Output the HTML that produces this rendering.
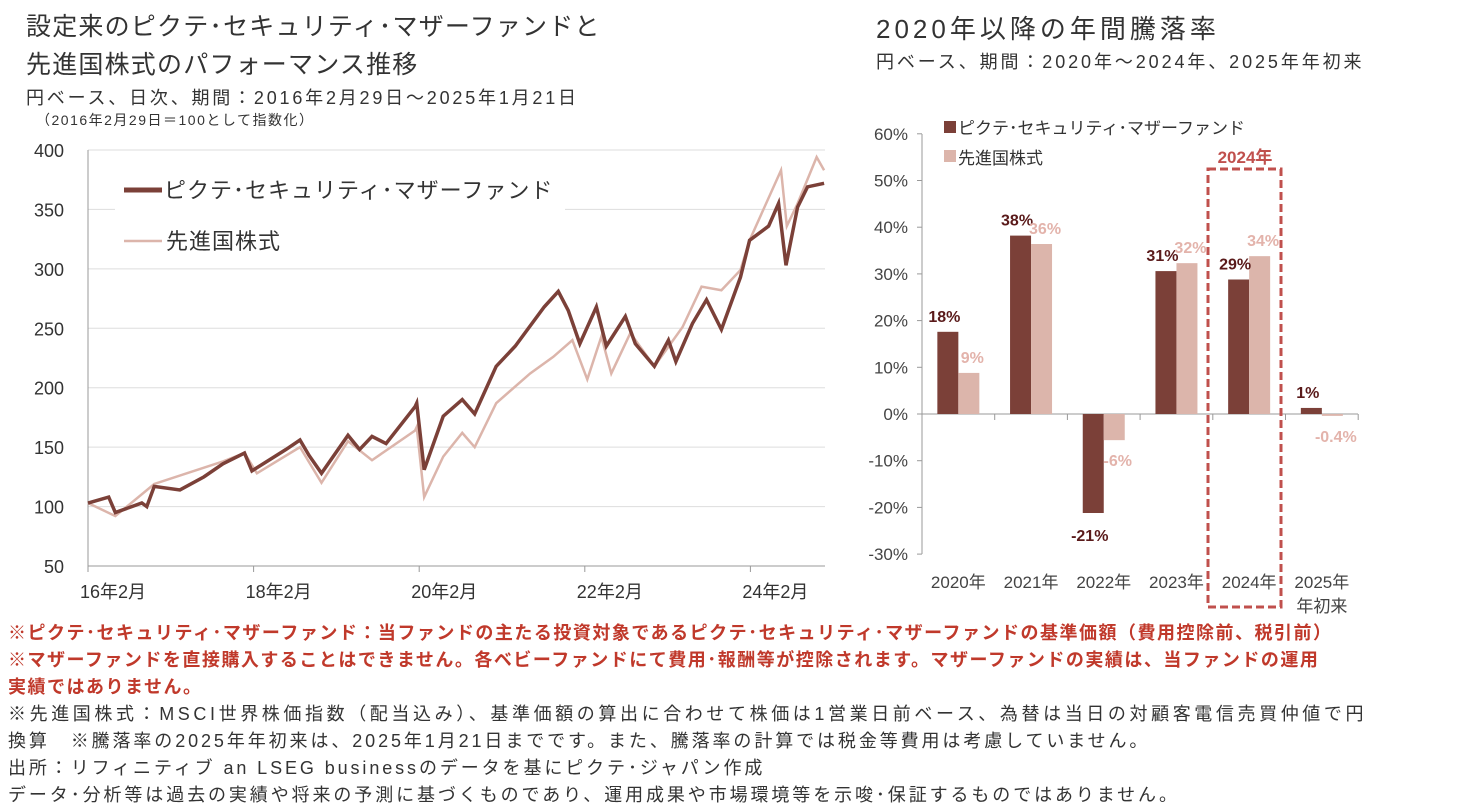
<!DOCTYPE html>
<html><head><meta charset="utf-8"><style>
body{margin:0;background:#fff;font-family:"Liberation Sans","Noto Sans CJK JP",sans-serif;}
#wrap{position:relative;width:1457px;height:812px;overflow:hidden;}
.t{position:absolute;white-space:nowrap;color:#333;}
.r{color:#c0392b;font-weight:bold;letter-spacing:1.5px;}
</style></head><body><div id="wrap">
<div class="t" style="left:26px;top:8px;font-size:25px;line-height:38px;letter-spacing:1.2px">設定来のピクテ･セキュリティ･マザーファンドと<br>先進国株式のパフォーマンス推移</div>
<div class="t" style="left:26px;top:84px;font-size:18px;letter-spacing:2.8px">円ベース、日次、期間：2016年2月29日～2025年1月21日</div>
<div class="t" style="left:36px;top:110px;font-size:14px;letter-spacing:1.5px">（2016年2月29日＝100として指数化）</div>
<div class="t" style="left:876px;top:9px;font-size:26px;letter-spacing:4px">2020年以降の年間騰落率</div>
<div class="t" style="left:876px;top:48px;font-size:18px;letter-spacing:2.9px">円ベース、期間：2020年～2024年、2025年年初来</div>
<svg width="1457" height="812" style="position:absolute;left:0;top:0" id="svg"></svg>
<div class="t" style="left:8px;top:620px;font-size:18px;line-height:27px;letter-spacing:2.9px"><span class="r">※ピクテ･セキュリティ･マザーファンド：当ファンドの主たる投資対象であるピクテ･セキュリティ･マザーファンドの基準価額（費用控除前、税引前）<br>※マザーファンドを直接購入することはできません。各ベビーファンドにて費用･報酬等が控除されます。マザーファンドの実績は、当ファンドの運用<br>実績ではありません。</span><br><span style="letter-spacing:3.6px">※先進国株式：MSCI世界株価指数（配当込み）、基準価額の算出に合わせて株価は1営業日前ベース、為替は当日の対顧客電信売買仲値で円</span><br>換算　※騰落率の2025年年初来は、2025年1月21日までです。また、騰落率の計算では税金等費用は考慮していません。<br>出所：リフィニティブ an LSEG businessのデータを基にピクテ･ジャパン作成<br>データ･分析等は過去の実績や将来の予測に基づくものであり、運用成果や市場環境等を示唆･保証するものではありません。</div>
</div>
<script>
const fundT=[2016.16,2016.41,2016.49,2016.81,2016.87,2016.96,2017.27,2017.56,2017.79,2018.05,2018.14,2018.55,2018.72,2018.83,2018.98,2019.3,2019.44,2019.59,2019.76,2020.11,2020.13,2020.22,2020.45,2020.68,2020.83,2021.09,2021.32,2021.67,2021.84,2021.96,2022.1,2022.3,2022.42,2022.65,2022.77,2023.0,2023.17,2023.26,2023.46,2023.63,2023.81,2024.04,2024.15,2024.38,2024.5,2024.59,2024.73,2024.85,2025.05];
const fundV=[103,108,95,103,100,117,114,125,136,145,130,148,156,143,128,160,148,159,153,184,187,131,176,190,178,218,235,268,281,265,237,268,235,260,237,218,240,222,254,274,249,293,324,336,355,303,352,369,372];
const worldT=[2016.16,2016.49,2016.96,2017.79,2018.05,2018.2,2018.72,2018.98,2019.3,2019.59,2020.11,2020.13,2020.22,2020.45,2020.68,2020.83,2021.09,2021.5,2021.78,2022.01,2022.19,2022.36,2022.48,2022.71,2023.0,2023.34,2023.57,2023.81,2024.04,2024.15,2024.53,2024.6,2024.73,2024.96,2025.05];
const worldV=[103,92,119,138,145,128,150,120,155,139,164,167,108,142,162,150,187,212,226,240,207,243,212,246,218,251,285,282,299,324,383,336,355,394,383];
const yTicks=[50,100,150,200,250,300,350,400];
const xTickYears=[2016.16,2018.16,2020.16,2022.16,2024.16];
const xTickLabels=['16年2月','18年2月','20年2月','22年2月','24年2月'];
const cats=['2020年','2021年','2022年','2023年','2024年','2025年'];
const fundR=[17.6,38.2,-21.2,30.6,28.8,1.3];
const worldR=[8.8,36.4,-5.6,32.3,33.8,-0.4];
const fundLbl=['18%','38%','-21%','31%','29%','1%'];
const worldLbl=['9%','36%','-6%','32%','34%','-0.4%'];
const pctTicks=[-30,-20,-10,0,10,20,30,40,50,60];
const NS='http://www.w3.org/2000/svg';const svg=document.getElementById('svg');
function mk(tag,at,txt){const e=document.createElementNS(NS,tag);for(const k in at)e.setAttribute(k,at[k]);if(txt!=null)e.textContent=txt;svg.appendChild(e);return e;}
const FONT='"Liberation Sans","Noto Sans CJK JP",sans-serif';
const X=t=>88+(t-2016.16)*82.8, Y=v=>150+(400-v)*416/350;
yTicks.forEach(v=>{
 const g=mk('line',{x1:88,x2:825,y1:Y(v),y2:Y(v),stroke:v==50?'#999':'#ddd','stroke-width':1});
 
 const l=mk('text',{x:64,y:Y(v)+7,'text-anchor':'end','font-size':18,fill:'#333','font-family':FONT},v);
 
});
mk('line',{x1:88,x2:88,y1:150,y2:566,stroke:'#999'});
xTickYears.forEach((t,i)=>{
 mk('line',{x1:X(t),x2:X(t),y1:566,y2:572,stroke:'#999'});
 const l=mk('text',{x:X(t)-8,y:598,'font-size':18,fill:'#333','font-family':FONT},xTickLabels[i]);
 
});
const wp=mk('polyline',{points:worldT.map((t,i)=>X(t)+','+Y(worldV[i])).join(' '),fill:'none',stroke:'#dcb5ab','stroke-width':2.5});

const fp=mk('polyline',{points:fundT.map((t,i)=>X(t)+','+Y(fundV[i])).join(' '),fill:'none',stroke:'#7b4038','stroke-width':3.5});

mk('rect',{x:115,y:170,width:450,height:95,fill:'#fff'});
mk('line',{x1:124,x2:162,y1:190,y2:190,stroke:'#7b4038','stroke-width':5});
mk('text',{x:164,y:198,'font-size':22,fill:'#333','font-family':FONT,'letter-spacing':1},'ピクテ･セキュリティ･マザーファンド');
mk('line',{x1:124,x2:162,y1:241,y2:241,stroke:'#dcb5ab','stroke-width':2.5});
mk('text',{x:166,y:249,'font-size':22,fill:'#333','font-family':FONT,'letter-spacing':1},'先進国株式');
const BY=p=>414-p*4.67, cw=72.7, bx0=922;
pctTicks.forEach(p=>{
 mk('line',{x1:917,x2:922,y1:BY(p),y2:BY(p),stroke:'#999'});
 const l=mk('text',{x:908,y:BY(p)+6,'text-anchor':'end','font-size':17,fill:'#444','font-family':FONT},(p<0?'-':'')+Math.abs(p)+'%');
 
});
mk('line',{x1:922,x2:922,y1:134,y2:554,stroke:'#999'});
mk('line',{x1:922,x2:1358,y1:414,y2:414,stroke:'#999'});
cats.forEach((c,i)=>{
 const cx=bx0+cw*(i+0.5);
 mk('line',{x1:bx0+cw*(i+1),x2:bx0+cw*(i+1),y1:414,y2:420,stroke:'#999'});
 const f=fundR[i],w=worldR[i];
 const b1=mk('rect',{x:cx-21,y:Math.min(BY(f),414),width:21,height:Math.abs(BY(f)-414),fill:'#7b4038'});
 
 const b2=mk('rect',{x:cx,y:Math.min(BY(w),414),width:21,height:Math.max(1,Math.abs(BY(w)-414)),fill:'#dcb5ab'});
 
 mk('text',{x:cx-14,y:f>=0?BY(f)-10:BY(f)+28,'text-anchor':'middle','font-size':16,'font-weight':'bold',fill:'#5a1a1a','font-family':FONT},fundLbl[i]);
 mk('text',{x:cx+14,y:w>=0?BY(w)-10:BY(w)+26,'text-anchor':'middle','font-size':16,'font-weight':'bold',fill:'#e3b3ab','font-family':FONT},worldLbl[i]);
 const l=mk('text',{x:cx,y:588,'text-anchor':'middle','font-size':17,fill:'#444','font-family':FONT},c);
 
});
mk('text',{x:bx0+cw*5.5,y:612,'text-anchor':'middle','font-size':17,fill:'#444','font-family':FONT},'年初来');
mk('rect',{x:944,y:121,width:12,height:12,fill:'#7b4038'});
mk('text',{x:958,y:134,'font-size':17,fill:'#333','font-family':FONT},'ピクテ･セキュリティ･マザーファンド');
mk('rect',{x:944,y:150,width:12,height:12,fill:'#dcb5ab'});
mk('text',{x:958,y:164,'font-size':17,fill:'#333','font-family':FONT},'先進国株式');
const hb=mk('rect',{x:1208,y:169,width:73,height:438,fill:'none',stroke:'#c0504d','stroke-width':3,'stroke-dasharray':'8,4'});

mk('text',{x:1245,y:163,'text-anchor':'middle','font-size':17,'font-weight':'bold',fill:'#c0504d','font-family':FONT},'2024年');
</script></body></html>
